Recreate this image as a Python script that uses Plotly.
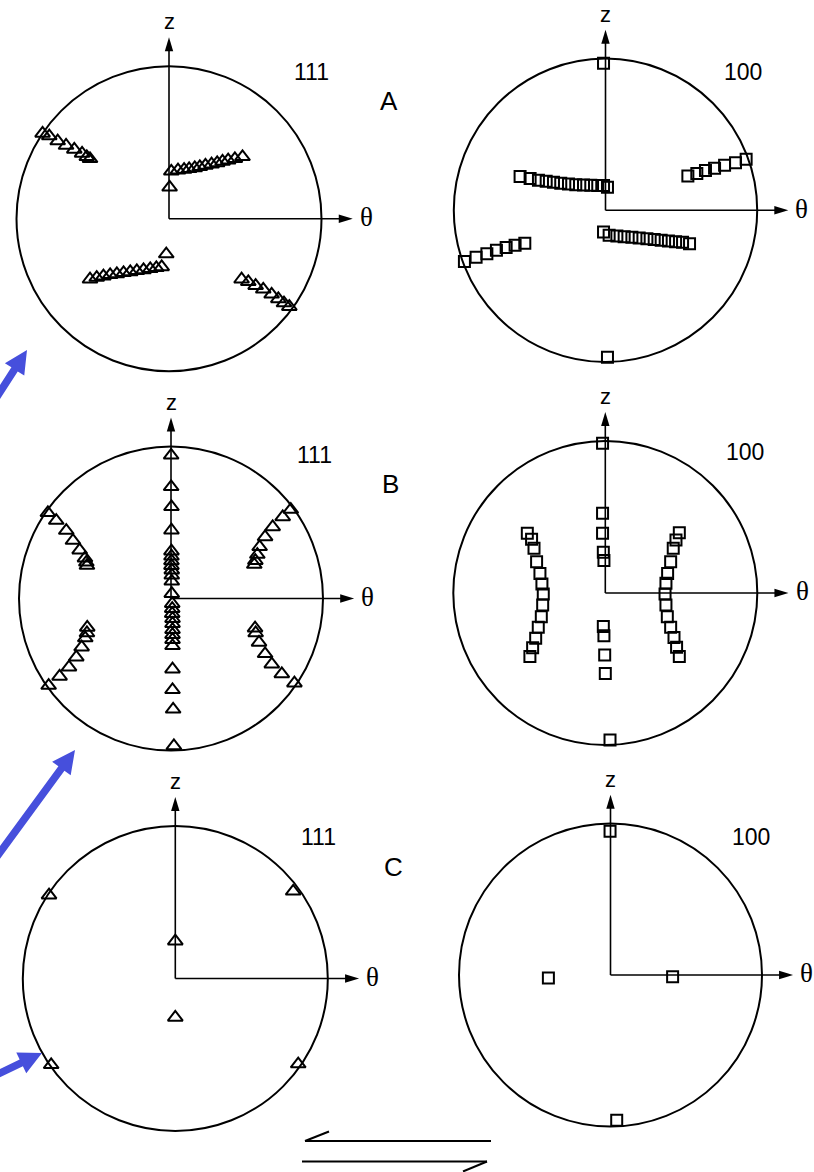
import math
import plotly.graph_objects as go

W, H = 814, 1172

# ---------------------------------------------------------------------------
# Pole-figure data: projected positions (theta, z) on the unit circle
# ---------------------------------------------------------------------------
# (A) 111 poles
a111_theta = [-0.829, -0.785, -0.730, -0.675, -0.621, -0.570, -0.539, -0.518,
              0.004, 0.015, 0.059, 0.099, 0.132, 0.169, 0.202, 0.239, 0.279,
              0.316, 0.351, 0.388, 0.432, 0.482,
              -0.518, -0.474, -0.430, -0.386, -0.342, -0.298, -0.254, -0.211,
              -0.167, -0.123, -0.083, -0.048, -0.018,
              0.476, 0.520, 0.568, 0.618, 0.673, 0.717, 0.754, 0.789]
a111_z = [0.559, 0.542, 0.509, 0.480, 0.454, 0.428, 0.406, 0.393,
          0.206, 0.311, 0.318, 0.322, 0.327, 0.333, 0.340, 0.349, 0.357,
          0.366, 0.375, 0.384, 0.393, 0.406,
          -0.397, -0.386, -0.377, -0.368, -0.362, -0.355, -0.349, -0.342,
          -0.336, -0.329, -0.322, -0.316, -0.232,
          -0.397, -0.414, -0.439, -0.463, -0.496, -0.526, -0.553, -0.577]

# (A) 100 poles
a100_theta = [-0.013, 0.013,
              -0.563, -0.497, -0.442, -0.391, -0.343, -0.295, -0.244, -0.196,
              -0.145, -0.097, -0.051, -0.013, 0.013,
              0.543, 0.602, 0.659, 0.719, 0.785, 0.857, 0.927,
              -0.930, -0.853, -0.782, -0.719, -0.655, -0.596, -0.532,
              -0.013, 0.024, 0.075, 0.123, 0.174, 0.222, 0.273, 0.321, 0.367,
              0.415, 0.462, 0.508, 0.554]
a100_z = [0.969, -0.969,
          0.222, 0.209, 0.198, 0.191, 0.185, 0.178, 0.174, 0.169,
          0.167, 0.165, 0.163, 0.163, 0.152,
          0.226, 0.242, 0.262, 0.277, 0.297, 0.314, 0.336,
          -0.338, -0.310, -0.286, -0.264, -0.246, -0.231, -0.218,
          -0.143, -0.165, -0.169, -0.174, -0.178, -0.182, -0.187, -0.193,
          -0.198, -0.202, -0.207, -0.211, -0.220]

# (B) 111 poles
b111_theta = [0.001, 0.001, 0.003, 0.003, 0.003, 0.003, 0.003, 0.003, 0.005,
              0.005, 0.005, 0.005, 0.008, 0.008, 0.008, 0.010, 0.010, 0.010,
              0.010, 0.010, 0.010, 0.010, 0.010, 0.014, 0.019,
              -0.810, -0.755, -0.689, -0.645, -0.601, -0.566, -0.557, -0.553,
              0.788, 0.735, 0.669, 0.619, 0.583, 0.568, 0.555, 0.548,
              -0.551, -0.553, -0.564, -0.588, -0.623, -0.671, -0.733, -0.805,
              0.553, 0.557, 0.579, 0.619, 0.663, 0.729, 0.812]
b111_z = [0.942, 0.735, 0.603, 0.449, 0.311, 0.278, 0.247, 0.216, 0.186,
          0.153, 0.113, 0.032, -0.034, -0.067, -0.100, -0.133, -0.166, -0.205,
          -0.238, -0.271, -0.311, -0.465, -0.601, -0.729, -0.970,
          0.564, 0.513, 0.447, 0.381, 0.318, 0.265, 0.238, 0.217,
          0.585, 0.537, 0.471, 0.405, 0.340, 0.289, 0.249, 0.223,
          -0.190, -0.227, -0.260, -0.320, -0.386, -0.452, -0.513, -0.573,
          -0.195, -0.227, -0.289, -0.364, -0.432, -0.496, -0.557]

# (B) 100 poles
b100_theta = [-0.018, 0.031,
              -0.018, -0.018, -0.013, -0.009,
              -0.013, -0.009, -0.004, 0.000,
              -0.513, -0.485, -0.469, -0.452, -0.430, -0.417, -0.408, -0.412,
              -0.421, -0.441, -0.458, -0.478, -0.496,
              0.487, 0.465, 0.447, 0.430, 0.410, 0.399, 0.393, 0.399,
              0.408, 0.430, 0.452, 0.469, 0.487]
b100_z = [0.985, -0.967,
          0.524, 0.393, 0.268, 0.213,
          -0.221, -0.281, -0.408, -0.529,
          0.393, 0.353, 0.294, 0.206, 0.129, 0.059, -0.007, -0.079,
          -0.156, -0.226, -0.298, -0.360, -0.417,
          0.397, 0.349, 0.294, 0.206, 0.129, 0.064, -0.007, -0.079,
          -0.156, -0.226, -0.292, -0.357, -0.417]

# (C) 111 poles
c111_theta = [-0.828, 0.773, 0.000, 0.000, -0.814, 0.806]
c111_z = [0.546, 0.572, 0.245, -0.255, -0.566, -0.561]

# (C) 100 poles
c100_theta = [-0.003, 0.041, -0.410, 0.410]
c100_z = [0.949, -0.958, -0.020, -0.012]

# Panel captions
pole_labels = ["111", "100", "111", "100", "111", "100"]
stage_labels = ["A", "B", "C"]

# ---------------------------------------------------------------------------
# Page geometry (pixels, origin top-left)
# ---------------------------------------------------------------------------
PANELS = [
    dict(theta=a111_theta, z=a111_z, sym="triangle-up-open", cx=169.0, cy=218.7, r=152.5, box=(0, 407, 0, 392), lab=(311.7, 71.7)),
    dict(theta=a100_theta, z=a100_z, sym="square-open", cx=605.5, cy=210.3, r=151.7, box=(407, 814, 0, 392), lab=(742.5, 71.7)),
    dict(theta=b111_theta, z=b111_z, sym="triangle-up-open", cx=171.0, cy=598.5, r=152.0, box=(0, 407, 392, 772), lab=(314.0, 454.7)),
    dict(theta=b100_theta, z=b100_z, sym="square-open", cx=605.3, cy=593.0, r=152.0, box=(407, 814, 392, 772), lab=(745.0, 451.7)),
    dict(theta=c111_theta, z=c111_z, sym="triangle-up-open", cx=175.3, cy=978.5, r=152.5, box=(0, 407, 772, 1172), lab=(318.0, 837.0)),
    dict(theta=c100_theta, z=c100_z, sym="square-open", cx=610.5, cy=975.0, r=151.5, box=(407, 814, 772, 1172), lab=(751.0, 836.7)),
]
STAGE_POS = [(389, 101), (390, 484), (393, 867)]

Z_TIP, T_TIP = 1.19, 1.205      # axis arrow lengths (circle radii)
Z_LAB, T_LAB = 1.29, 1.295      # axis caption offsets
HEAD_LEN, HEAD_HALF = 14.0, 4.2  # arrowhead size in px

SANS = "Liberation Sans, Arial, sans-serif"
SERIF = "Liberation Serif, Times New Roman, serif"
BLUE = "#464FDC"


def px(x, y):
    return x / W, 1 - y / H


fig = go.Figure()
layout = dict(width=W, height=H, margin=dict(l=0, r=0, t=0, b=0),
              paper_bgcolor="white", plot_bgcolor="white", showlegend=False)
shapes, annotations = [], []

for i, p in enumerate(PANELS, start=1):
    sfx = "" if i == 1 else str(i)
    xa, ya = "x" + sfx, "y" + sfx
    x0, x1, y0, y1 = p["box"]
    cx, cy, r = p["cx"], p["cy"], p["r"]
    layout["xaxis" + sfx] = dict(domain=[x0 / W, x1 / W], range=[(x0 - cx) / r, (x1 - cx) / r],
                                 visible=False, fixedrange=True, anchor=ya)
    layout["yaxis" + sfx] = dict(domain=[1 - y1 / H, 1 - y0 / H], range=[(cy - y1) / r, (cy - y0) / r],
                                 visible=False, fixedrange=True, anchor=xa)

    # projection circle
    shapes.append(dict(type="circle", xref=xa, yref=ya, x0=-1, x1=1, y0=-1, y1=1,
                       line=dict(color="black", width=2), layer="below"))
    hl, hw = HEAD_LEN / r, HEAD_HALF / r
    # z axis
    shapes.append(dict(type="line", xref=xa, yref=ya, x0=0, y0=0, x1=0, y1=Z_TIP - hl * 0.8,
                       line=dict(color="black", width=1.6), layer="below"))
    shapes.append(dict(type="path", xref=xa, yref=ya,
                       path=f"M {-hw},{Z_TIP - hl} L {hw},{Z_TIP - hl} L 0,{Z_TIP} Z",
                       fillcolor="black", line=dict(width=0)))
    # theta axis
    shapes.append(dict(type="line", xref=xa, yref=ya, x0=0, y0=0, x1=T_TIP - hl * 0.8, y1=0,
                       line=dict(color="black", width=1.6), layer="below"))
    shapes.append(dict(type="path", xref=xa, yref=ya,
                       path=f"M {T_TIP - hl},{-hw} L {T_TIP - hl},{hw} L {T_TIP},0 Z",
                       fillcolor="black", line=dict(width=0)))

    annotations.append(dict(xref=xa, yref=ya, x=0, y=Z_LAB, text="z", showarrow=False,
                            font=dict(family=SANS, size=22, color="black"),
                            xanchor="center", yanchor="middle"))
    annotations.append(dict(xref=xa, yref=ya, x=T_LAB, y=0.01, text="θ", showarrow=False,
                            font=dict(family=SERIF, size=27, color="black"),
                            xanchor="center", yanchor="middle"))
    lx, ly = px(*p["lab"])
    annotations.append(dict(xref="paper", yref="paper", x=lx, y=ly, text=pole_labels[i - 1],
                            showarrow=False, font=dict(family=SANS, size=23, color="black"),
                            xanchor="center", yanchor="middle"))

    tri = "triangle" in p["sym"]
    fig.add_trace(go.Scatter(
        x=p["theta"], y=p["z"], xaxis=xa, yaxis=ya, mode="markers", cliponaxis=False,
        marker=dict(symbol=p["sym"], size=13 if tri else 11,
                    color="black", line=dict(width=2)),
        hoverinfo="skip"))

for lab, (sx, sy) in zip(stage_labels, STAGE_POS):
    lx, ly = px(sx, sy)
    annotations.append(dict(xref="paper", yref="paper", x=lx, y=ly, text=lab, showarrow=False,
                            font=dict(family=SANS, size=26, color="black"),
                            xanchor="center", yanchor="middle"))


def block_arrow(tail, tip, shaft=7.5, head_len=23.0, head_w=23.0):
    dx, dy = tip[0] - tail[0], tip[1] - tail[1]
    L = math.hypot(dx, dy)
    ux, uy = dx / L, dy / L
    nx, ny = -uy, ux
    bx, by = tip[0] - ux * head_len, tip[1] - uy * head_len
    pts = [(tail[0] + nx * shaft / 2, tail[1] + ny * shaft / 2),
           (bx + nx * shaft / 2, by + ny * shaft / 2),
           (bx + nx * head_w / 2, by + ny * head_w / 2),
           tip,
           (bx - nx * head_w / 2, by - ny * head_w / 2),
           (bx - nx * shaft / 2, by - ny * shaft / 2),
           (tail[0] - nx * shaft / 2, tail[1] - ny * shaft / 2)]
    return "M " + " L ".join("{:.5f},{:.5f}".format(*px(x, y)) for x, y in pts) + " Z"


# blue pointer arrows along the left edge
for tail, tip in [((-16, 417), (27, 350)), ((-10, 866), (75, 750)), ((-10, 1078), (42, 1053))]:
    shapes.append(dict(type="path", xref="paper", yref="paper", path=block_arrow(tail, tip),
                       fillcolor=BLUE, line=dict(width=0)))

# shear-sense half arrows at the bottom
for (ax0, ay0), (ax1, ay1) in [((305, 1141), (491, 1141)), ((305, 1141), (329, 1131.5)),
                               ((302, 1161.5), (487, 1161.5)), ((487, 1161.5), (463, 1171.5))]:
    X0, Y0 = px(ax0, ay0)
    X1, Y1 = px(ax1, ay1)
    shapes.append(dict(type="line", xref="paper", yref="paper", x0=X0, y0=Y0, x1=X1, y1=Y1,
                       line=dict(color="black", width=2)))

layout["shapes"] = shapes
layout["annotations"] = annotations
fig.update_layout(**layout)
fig.write_html("out.html")
